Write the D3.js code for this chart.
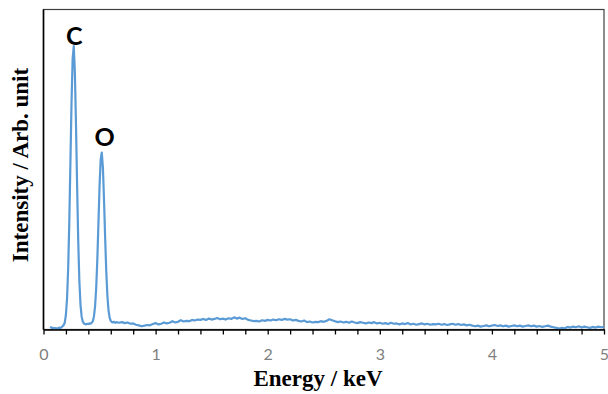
<!DOCTYPE html>
<html>
  <head>
    <meta charset="UTF-8" />
    <title>EDS spectrum</title>
    <script src="https://d3js.org/d3.v7.min.js"></script>
    <style>
      body { margin: 0; background: #fff; }
    </style>
  </head>
  <body>
    <svg width="608" height="394"></svg>
    <script>
      // spectrum, energy in keV / intensity in arbitrary units
      var energyKeV = [
        0.06, 0.07, 0.08, 0.09, 0.10, 0.11, 0.12, 0.13, 0.14, 0.15, 0.16, 0.17, 0.18, 0.19,
        0.20, 0.21, 0.22, 0.23, 0.24, 0.25, 0.26, 0.27, 0.28, 0.29, 0.30, 0.31, 0.32, 0.33,
        0.34, 0.35, 0.36, 0.37, 0.38, 0.39, 0.40, 0.41, 0.42, 0.43, 0.44, 0.45, 0.46, 0.47,
        0.48, 0.49, 0.50, 0.51, 0.52, 0.53, 0.54, 0.55, 0.56, 0.57, 0.58, 0.59, 0.60, 0.61,
        0.62, 0.63, 0.64,
        0.650, 0.675, 0.700, 0.725, 0.750, 0.775, 0.800, 0.825, 0.850, 0.875, 0.900, 0.925,
        0.950, 0.975, 1.000, 1.025, 1.050, 1.075, 1.100, 1.125, 1.150, 1.175, 1.200, 1.225,
        1.250, 1.275, 1.300, 1.325, 1.350, 1.375, 1.400, 1.425, 1.450, 1.475, 1.500, 1.525,
        1.550, 1.575, 1.600, 1.625, 1.650, 1.675, 1.700, 1.725, 1.750, 1.775, 1.800, 1.825,
        1.850, 1.875, 1.900, 1.925, 1.950, 1.975, 2.000, 2.025, 2.050, 2.075, 2.100, 2.125,
        2.150, 2.175, 2.200, 2.225, 2.250, 2.275, 2.300, 2.325, 2.350, 2.375, 2.400, 2.425,
        2.450, 2.475, 2.500, 2.525, 2.550, 2.575, 2.600, 2.625, 2.650, 2.675, 2.700, 2.725,
        2.750, 2.775, 2.800, 2.825, 2.850, 2.875, 2.900, 2.925, 2.950, 2.975, 3.000, 3.025,
        3.050, 3.075, 3.100, 3.125, 3.150, 3.175, 3.200, 3.225, 3.250, 3.275, 3.300, 3.325,
        3.350, 3.375, 3.400, 3.425, 3.450, 3.475, 3.500, 3.525, 3.550, 3.575, 3.600, 3.625,
        3.650, 3.675, 3.700, 3.725, 3.750, 3.775, 3.800, 3.825, 3.850, 3.875, 3.900, 3.925,
        3.950, 3.975, 4.000, 4.025, 4.050, 4.075, 4.100, 4.125, 4.150, 4.175, 4.200, 4.225,
        4.250, 4.275, 4.300, 4.325, 4.350, 4.375, 4.400, 4.425, 4.450, 4.475, 4.500, 4.525,
        4.550, 4.575, 4.600, 4.625, 4.650, 4.675, 4.700, 4.725, 4.750, 4.775, 4.800, 4.825,
        4.850, 4.875, 4.900, 4.925, 4.950, 4.975, 5.000
      ];
      var intensity = [
        0.9, 0.6, 0.5, 0.3, 0.5, 0.3, 0.4, 0.3, 0.6, 0.4, 0.7, 1.0, 1.4, 2.2,
        4.6, 9.7, 19.0, 33.4, 52.0, 70.9, 84.6, 88.6, 80.2, 63.8, 44.6, 27.4, 15.1, 7.8,
        4.1, 2.5, 1.9, 1.7, 1.6, 1.8, 1.7, 1.9, 1.8, 2.1, 2.6, 4.1, 7.2, 12.9,
        21.7, 33.1, 44.8, 53.1, 55.3, 50.5, 40.4, 28.6, 18.1, 10.5, 6.0, 3.7, 2.7, 2.3,
        2.2, 2.4, 2.1,
        2.3, 2.1, 2.3, 2.0, 2.2, 1.8, 1.9, 1.5, 1.3, 1.0, 1.2, 1.4,
        1.3, 1.7, 2.0, 1.6, 1.8, 2.2, 1.9, 2.1, 2.6, 2.2, 2.4, 2.9,
        2.5, 2.7, 2.6, 3.0, 2.8, 3.1, 3.0, 3.3, 3.0, 3.4, 3.1, 3.3,
        3.6, 3.2, 3.4, 3.1, 3.5, 3.3, 3.8, 3.4, 3.7, 3.3, 3.5, 3.0,
        2.8, 2.6, 2.7, 2.5, 2.9, 2.7, 3.0, 2.8, 3.1, 2.9, 3.2, 3.0,
        3.3, 3.1, 3.2, 2.8, 3.0, 2.7, 2.5, 2.8, 2.3, 2.5, 2.2, 2.4,
        2.3, 2.6, 2.4, 2.7, 3.2, 2.9, 2.6, 2.3, 2.5, 2.2, 2.4, 2.1,
        2.5, 2.2, 2.0, 2.3, 2.1, 1.9, 2.2, 2.0, 2.3, 1.9, 2.1, 1.8,
        2.0, 1.7, 2.1, 1.8, 1.9, 1.6, 1.9, 1.7, 2.0, 1.6, 1.8, 1.5,
        1.7, 1.9, 1.6, 1.8, 1.5, 1.7, 1.6, 1.8, 1.5, 1.7, 1.4, 1.6,
        1.8, 1.5, 1.7, 1.4, 1.6, 1.3, 1.5, 1.2, 1.0, 1.2, 0.9, 1.1,
        1.3, 1.0, 1.2, 1.4, 1.1, 1.3, 1.0, 1.2, 0.9, 1.1, 1.3, 1.0,
        1.2, 0.9, 1.1, 1.3, 1.0, 1.2, 0.9, 1.1, 0.8, 1.0, 1.2, 0.9,
        0.7, 0.5, 0.3, 0.5, 0.4, 0.8, 0.6, 0.9, 0.7, 1.0, 0.6, 0.9,
        0.7, 0.5, 0.8, 0.6, 0.9, 0.7, 0.8
      ];
      var xTicks = [0, 0.2, 0.4, 0.6, 0.8, 1, 1.2, 1.4, 1.6, 1.8, 2, 2.2, 2.4, 2.6, 2.8, 3,
        3.2, 3.4, 3.6, 3.8, 4, 4.2, 4.4, 4.6, 4.8, 5];
      var peakLabels = ["C", "O"];
      var labelEnergy = [0.274, 0.544];
      var labelIntensity = [88.9, 57.3];

      var svg = d3.select("svg"),
        margin = { top: 9.5, right: 4, bottom: 64.5, left: 43.5 },
        width = +svg.attr("width") - margin.left - margin.right,
        height = +svg.attr("height") - margin.top - margin.bottom,
        g = svg.append("g").attr("transform", "translate(" + margin.left + "," + margin.top + ")");

      var x = d3.scaleLinear().domain([0, 5]).range([0, width]);
      var y = d3.scaleLinear().domain([0, 100]).range([height, 0]);

      var data = energyKeV.map(function (e, i) {
        return { e: e, v: intensity[i] };
      });

      // frame (top / right)
      g.append("rect")
        .attr("width", width)
        .attr("height", height)
        .attr("fill", "none")
        .attr("stroke", "#404040")
        .attr("stroke-width", 1.2);

      g.append("path")
        .datum(data)
        .attr("fill", "none")
        .attr("stroke", "#5b9bd5")
        .attr("stroke-width", 2.2)
        .attr("stroke-linejoin", "round")
        .attr("d", d3.line().x(function (d) { return x(d.e); }).y(function (d) { return y(d.v); }));

      var xAxis = g.append("g")
        .attr("transform", "translate(0," + height + ")")
        .call(d3.axisBottom(x).tickValues(xTicks).tickSize(5).tickSizeOuter(0).tickPadding(14)
          .tickFormat(function (d) { return Math.abs(d - Math.round(d)) < 1e-6 ? d3.format("d")(d) : ""; }));
      xAxis.select(".domain").attr("stroke", "#000").attr("stroke-width", 1.6);
      xAxis.selectAll(".tick line").attr("stroke", "#000").attr("stroke-width", 1.3);
      xAxis.selectAll(".tick text")
        .attr("font-family", "Lato, 'Open Sans', sans-serif")
        .attr("font-size", 16)
        .attr("fill", "#7f7f7f");

      // left axis line only
      g.append("line")
        .attr("x1", 0).attr("x2", 0)
        .attr("y1", 0).attr("y2", height)
        .attr("stroke", "#000")
        .attr("stroke-width", 1.6);

      g.selectAll(".peak")
        .data(peakLabels)
        .enter()
        .append("text")
        .attr("class", "peak")
        .attr("x", function (d, i) { return x(labelEnergy[i]); })
        .attr("y", function (d, i) { return y(labelIntensity[i]); })
        .attr("text-anchor", "middle")
        .attr("font-family", "Lato, 'Open Sans', sans-serif")
        .attr("font-weight", "bold")
        .attr("font-size", 25)
        .text(function (d) { return d; });

      svg.append("text")
        .attr("x", 318)
        .attr("y", 386)
        .attr("text-anchor", "middle")
        .attr("font-family", "'Liberation Serif', 'Times New Roman', serif")
        .attr("font-weight", "bold")
        .attr("font-size", 23)
        .text("Energy / keV");

      svg.append("text")
        .attr("transform", "translate(28,165) rotate(-90)")
        .attr("text-anchor", "middle")
        .attr("font-family", "'Liberation Serif', 'Times New Roman', serif")
        .attr("font-weight", "bold")
        .attr("font-size", 23)
        .text("Intensity / Arb. unit");
    </script>
  </body>
</html>
